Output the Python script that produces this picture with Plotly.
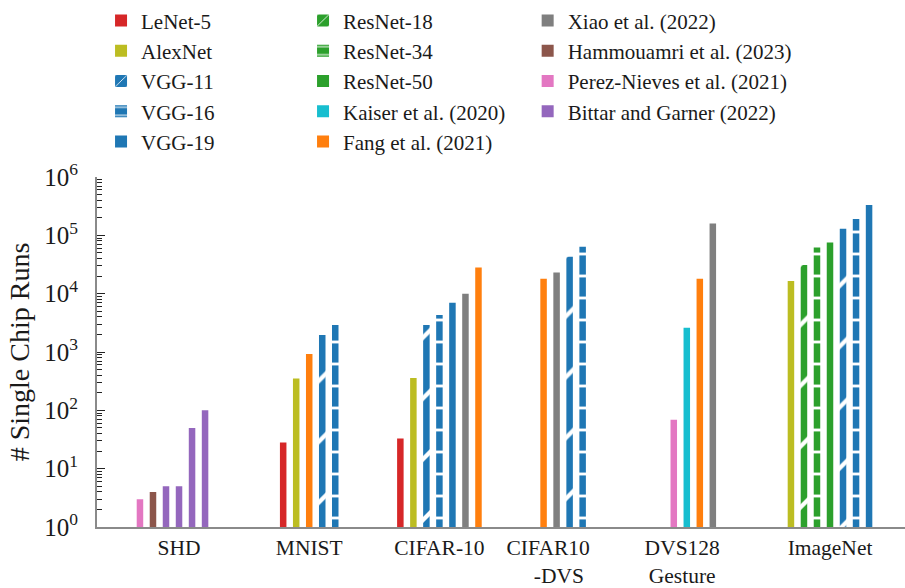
import plotly.graph_objects as go

# ---------------- data ----------------
tick_labels = ["SHD", "MNIST", "CIFAR-10",
               "CIFAR10<br>\u00a0\u00a0\u00a0\u00a0-DVS", "DVS128<br>Gesture", "ImageNet"]

series_names = ["LeNet-5", "AlexNet", "VGG-11", "VGG-16", "VGG-19",
                "ResNet-18", "ResNet-34", "ResNet-50",
                "Kaiser et al. (2020)", "Fang et al. (2021)",
                "Xiao et al. (2022)", "Hammouamri et al. (2023)",
                "Perez-Nieves et al. (2021)", "Bittar and Garner (2022)"]

shd_models = ["Perez-Nieves et al. (2021)", "Hammouamri et al. (2023)",
              "Bittar and Garner (2022)", "Bittar and Garner (2022)",
              "Bittar and Garner (2022)", "Bittar and Garner (2022)"]
shd_runs = [3, 4, 5, 5, 50, 100]

mnist_models = ["LeNet-5", "AlexNet", "Fang et al. (2021)", "VGG-11", "VGG-16"]
mnist_runs = [28, 350, 920, 1950, 2900]

cifar10_models = ["LeNet-5", "AlexNet", "VGG-11", "VGG-16", "VGG-19",
                  "Xiao et al. (2022)", "Fang et al. (2021)"]
cifar10_runs = [33, 360, 2900, 4300, 7000, 10000, 28000]

cifar10dvs_models = ["Fang et al. (2021)", "Xiao et al. (2022)", "VGG-11", "VGG-16"]
cifar10dvs_runs = [18000, 23000, 43000, 64000]

dvs128_models = ["Perez-Nieves et al. (2021)", "Kaiser et al. (2020)",
                 "Fang et al. (2021)", "Xiao et al. (2022)"]
dvs128_runs = [69, 2600, 18000, 160000]

imagenet_models = ["AlexNet", "ResNet-18", "ResNet-34", "ResNet-50",
                   "VGG-11", "VGG-16", "VGG-19"]
imagenet_runs = [16500, 31000, 62000, 75000, 130000, 190000, 330000]

groups = [(shd_models, shd_runs), (mnist_models, mnist_runs),
          (cifar10_models, cifar10_runs), (cifar10dvs_models, cifar10dvs_runs),
          (dvs128_models, dvs128_runs), (imagenet_models, imagenet_runs)]

# ---------------- layout / style ----------------
group_start = [0, 11, 20, 31, 41, 50]          # first bar slot of each group
tick_pos = [3, 13, 23, 31.35, 41.65, 53]       # slot position of each label
bar_width = 0.5

colors = {
    "LeNet-5": "#d62728", "AlexNet": "#bcbd22",
    "VGG-11": "#1f77b4", "VGG-16": "#1f77b4", "VGG-19": "#1f77b4",
    "ResNet-18": "#2ca02c", "ResNet-34": "#2ca02c", "ResNet-50": "#2ca02c",
    "Kaiser et al. (2020)": "#17becf", "Fang et al. (2021)": "#ff7f0e",
    "Xiao et al. (2022)": "#7f7f7f", "Hammouamri et al. (2023)": "#8c564b",
    "Perez-Nieves et al. (2021)": "#e377c2", "Bittar and Garner (2022)": "#9467bd",
}
hatch = {"VGG-11": "/", "VGG-16": "-", "ResNet-18": "/", "ResNet-34": "-"}
legend_of = {}
for i, n in enumerate(series_names):
    legend_of[n] = "legend" if i < 5 else ("legend2" if i < 10 else "legend3")

FONT = "Liberation Serif"

fig = go.Figure()
for name in series_names:
    xs, ys = [], []
    for g, (mods, runs) in enumerate(groups):
        for i, (m, v) in enumerate(zip(mods, runs)):
            if m == name:
                xs.append(group_start[g] + i)
                ys.append(v)
    marker = dict(color=colors[name], line=dict(width=0))
    if name in hatch:
        shp = hatch[name]
        marker["pattern"] = dict(shape=shp, fillmode="overlay", fgcolor="white",
                                 fgopacity=1,
                                 size=43 if shp == "/" else 22,
                                 solidity=0.1 if shp == "/" else 0.13)
    fig.add_trace(go.Bar(x=xs, y=ys, name=name, width=bar_width, marker=marker,
                         legend=legend_of[name]))

leg_common = dict(font=dict(family=FONT, size=21, color="#1a1a1a"),
                  bgcolor="rgba(0,0,0,0)", yanchor="top", xanchor="left",
                  orientation="v", y=1.505, traceorder="normal")

fig.update_layout(
    width=905, height=588,
    margin=dict(l=97, r=0, t=177, b=59),
    paper_bgcolor="white", plot_bgcolor="white",
    barmode="overlay",
    font=dict(family=FONT, color="#1a1a1a"),
    legend=dict(x=0.005, **leg_common),
    legend2=dict(x=0.255, **leg_common),
    legend3=dict(x=0.533, **leg_common),
    xaxis=dict(range=[-3.3, 58.76], tickmode="array", tickvals=tick_pos,
               ticktext=tick_labels, ticks="", showgrid=False, zeroline=False,
               showline=True, linecolor="#8a8a8a", linewidth=2,
               tickfont=dict(family=FONT, size=21.5, color="#1a1a1a")),
    yaxis=dict(type="log", range=[0, 6], showgrid=False, zeroline=False,
               showline=True, linecolor="#8a8a8a", linewidth=2,
               tickmode="array", tickvals=[10 ** k for k in range(7)],
               ticktext=["10<sup>%d</sup>" % k for k in range(7)],
               ticks="inside", ticklen=8, tickwidth=1.2, tickcolor="#222",
               ticklabelstandoff=12,
               minor=dict(tickmode="array",
                          tickvals=[m * 10 ** k for k in range(6) for m in range(2, 10)],
                          ticks="inside", ticklen=5, tickwidth=1, tickcolor="#222",
                          showgrid=False),
               tickfont=dict(family=FONT, size=25, color="#1a1a1a"),
               title=dict(text="# Single Chip Runs",
                          font=dict(family=FONT, size=28, color="#1a1a1a"),
                          standoff=6)),
)

fig.write_html("out.html",
               config={"displayModeBar": False},
               post_script="document.body.style.margin='0px';"
                           "document.body.style.overflow='hidden';")
